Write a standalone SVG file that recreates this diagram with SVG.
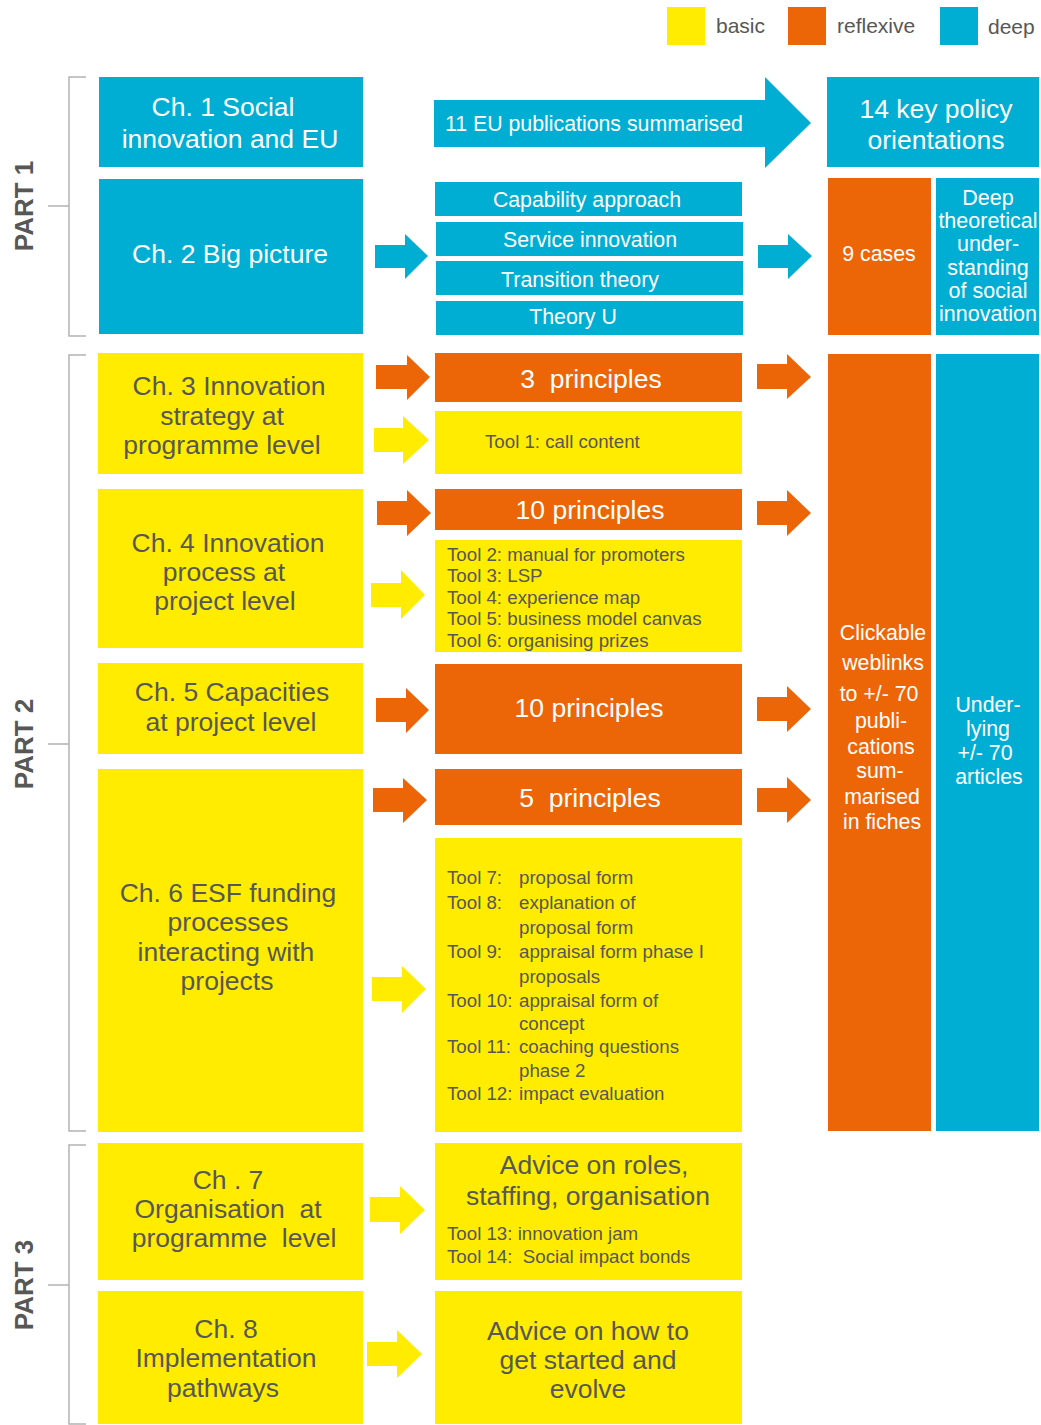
<svg xmlns="http://www.w3.org/2000/svg" width="1041" height="1425" viewBox="0 0 1041 1425">
<style>
.y{fill:#FFEC00}.o{fill:#EC6608}.b{fill:#00AED4}
text{font-family:"Liberation Sans",Arial,sans-serif}
.w{fill:#fff}.g{fill:#575756}
.c{text-anchor:middle}
.f26{font-size:26.5px}.f20{font-size:21.3px}.f17{font-size:18.7px}.f21{font-size:21.5px}.lg{font-size:21px}
.br{fill:none;stroke:#b2b2b2;stroke-width:1.5}
.part{font-size:26px;font-weight:bold;fill:#575756;text-anchor:middle}
</style>
<rect width="1041" height="1425" fill="#fff"/>
<g id="legend">
<rect class="y" x="667" y="7" width="38" height="38"/><text class="g lg" x="716" y="33">basic</text>
<rect class="o" x="788" y="7" width="38" height="38"/><text class="g lg" x="837" y="33">reflexive</text>
<rect class="b" x="940" y="7" width="38" height="38"/><text class="g lg" x="988" y="34">deep</text>
</g>
<g id="brackets">
<path class="br" d="M86 77H69V336H86M48 206H69"/>
<path class="br" d="M86 355H69V1131H86M48 744H69"/>
<path class="br" d="M86 1145H69V1424H86M48 1285H69"/>
<text class="part" transform="translate(33 206) rotate(-90)">PART 1</text>
<text class="part" transform="translate(33 744) rotate(-90)">PART 2</text>
<text class="part" transform="translate(33 1285) rotate(-90)">PART 3</text>
</g>
<g id="connectors">
<polygon class="b" points="434,100 765,100 765,77 811,123 765,168 765,147 434,147"/>
<text class="w f20" x="445" y="131">11 EU publications summarised</text>
<polygon class="b" points="375,245 405,245 405,234 428,256 405,279 405,268 375,268"/>
<polygon class="b" points="758,245 788,245 788,234 812,256 788,279 788,268 758,268"/>
<polygon class="o" points="376,365 407,365 407,355 430,377 407,400 407,389 376,389"/>
<polygon class="o" points="757,364 787,364 787,354 811,377 787,399 787,389 757,389"/>
<polygon class="y" points="374,428 403,428 403,416 429,440 403,464 403,452 374,452"/>
<polygon class="o" points="377,501 407,501 407,490 431,513 407,536 407,525 377,525"/>
<polygon class="o" points="757,501 787,501 787,490 811,513 787,536 787,525 757,525"/>
<polygon class="y" points="371,583 401,583 401,570 425,595 401,619 401,607 371,607"/>
<polygon class="o" points="376,698 406,698 406,688 429,710 406,733 406,722 376,722"/>
<polygon class="o" points="757,697 787,697 787,686 811,709 787,732 787,721 757,721"/>
<polygon class="o" points="373,788 403,788 403,778 427,800 403,823 403,812 373,812"/>
<polygon class="o" points="757,788 787,788 787,777 811,800 787,823 787,812 757,812"/>
<polygon class="y" points="372,977 402,977 402,966 426,989 402,1013 402,1001 372,1001"/>
<polygon class="y" points="370,1197 400,1197 400,1186 425,1210 400,1234 400,1222 370,1222"/>
<polygon class="y" points="367,1342 397,1342 397,1330 422,1354 397,1378 397,1366 367,1366"/>
</g>
<g id="ch1"><rect class="b" x="99" y="77" width="264" height="90"/>
<text class="w f26 c" x="223" y="116">Ch. 1 Social</text><text class="w f26 c" x="230" y="148">innovation and EU</text></g>
<g id="ch2"><rect class="b" x="99" y="179" width="264" height="155"/>
<text class="w f26 c" x="230" y="263">Ch. 2 Big picture</text></g>
<g id="policy"><rect class="b" x="827" y="77" width="212" height="90"/>
<text class="w f26 c" x="936" y="118">14 key policy</text><text class="w f26 c" x="936" y="149">orientations</text></g>
<g id="capability"><rect class="b" x="435" y="182" width="307" height="34"/><text class="w f20 c" x="587" y="207">Capability approach</text></g>
<g id="service"><rect class="b" x="436" y="222" width="307" height="34"/><text class="w f20 c" x="590" y="247">Service innovation</text></g>
<g id="transition"><rect class="b" x="436" y="261" width="307" height="34"/><text class="w f20 c" x="580" y="287">Transition theory</text></g>
<g id="theoryu"><rect class="b" x="436" y="301" width="307" height="34"/><text class="w f20 c" x="573" y="324">Theory U</text></g>
<g id="cases"><rect class="o" x="828" y="178" width="103" height="157"/><text class="w f20 c" x="879" y="261">9 cases</text></g>
<g id="deeptheory"><rect class="b" x="936" y="178" width="103" height="157"/>
<text class="w f21 c" x="988" y="205">Deep</text><text class="w f21 c" x="988" y="228">theoretical</text><text class="w f21 c" x="988" y="251">under-</text><text class="w f21 c" x="988" y="275">standing</text><text class="w f21 c" x="988" y="298">of social</text><text class="w f21 c" x="988" y="321">innovation</text></g>
<g id="ch3"><rect class="y" x="98" y="353" width="265" height="121"/>
<text class="g f26 c" x="229" y="395">Ch. 3 Innovation</text><text class="g f26 c" x="222" y="425">strategy at</text><text class="g f26 c" x="222" y="454">programme level</text></g>
<g id="p3"><rect class="o" x="435" y="353" width="307" height="49"/><text class="w f26 c" x="591" y="388" xml:space="preserve">3  principles</text></g>
<g id="tool1"><rect class="y" x="435" y="411" width="307" height="63"/><text class="g f17" x="485" y="448">Tool 1: call content</text></g>
<g id="ch4"><rect class="y" x="98" y="489" width="265" height="159"/>
<text class="g f26 c" x="228" y="552">Ch. 4 Innovation</text><text class="g f26 c" x="224" y="581">process at</text><text class="g f26 c" x="225" y="610">project level</text></g>
<g id="p10a"><rect class="o" x="435" y="489" width="307" height="41"/><text class="w f26 c" x="590" y="519">10 principles</text></g>
<g id="tools2to6"><rect class="y" x="435" y="540" width="307" height="112"/>
<text class="g f17" x="447" y="561">Tool 2: manual for promoters</text><text class="g f17" x="447" y="582">Tool 3: LSP</text><text class="g f17" x="447" y="604">Tool 4: experience  map</text><text class="g f17" x="447" y="625">Tool 5: business model canvas</text><text class="g f17" x="447" y="647">Tool 6: organising prizes</text></g>
<g id="ch5"><rect class="y" x="98" y="663" width="265" height="91"/>
<text class="g f26 c" x="232" y="701">Ch. 5 Capacities</text><text class="g f26 c" x="231" y="731">at project level</text></g>
<g id="p10b"><rect class="o" x="435" y="664" width="307" height="90"/><text class="w f26 c" x="589" y="717">10 principles</text></g>
<g id="ch6"><rect class="y" x="98" y="769" width="265" height="363"/>
<text class="g f26 c" x="228" y="902">Ch. 6 ESF funding</text><text class="g f26 c" x="228" y="931">processes</text><text class="g f26 c" x="226" y="961">interacting with</text><text class="g f26 c" x="227" y="990">projects</text></g>
<g id="p5"><rect class="o" x="435" y="769" width="307" height="56"/><text class="w f26 c" x="590" y="807" xml:space="preserve">5  principles</text></g>
<g id="tools7to12"><rect class="y" x="435" y="838" width="307" height="294"/>
<text class="g f17" x="447" y="884">Tool 7:</text><text class="g f17" x="519" y="884">proposal  form</text>
<text class="g f17" x="447" y="909">Tool 8:</text><text class="g f17" x="519" y="909">explanation of</text>
<text class="g f17" x="519" y="934">proposal  form</text>
<text class="g f17" x="447" y="958">Tool 9:</text><text class="g f17" x="519" y="958">appraisal form phase I</text>
<text class="g f17" x="519" y="983">proposals</text>
<text class="g f17" x="447" y="1007">Tool 10:</text><text class="g f17" x="519" y="1007">appraisal form of</text>
<text class="g f17" x="519" y="1030">concept</text>
<text class="g f17" x="447" y="1053">Tool 11:</text><text class="g f17" x="519" y="1053">coaching questions</text>
<text class="g f17" x="519" y="1077">phase  2</text>
<text class="g f17" x="447" y="1100">Tool 12:</text><text class="g f17" x="519" y="1100">impact evaluation</text></g>
<g id="weblinks"><rect class="o" x="828" y="354" width="103" height="777"/>
<text class="w f20 c" x="883" y="640">Clickable</text><text class="w f20 c" x="883" y="670">weblinks</text><text class="w f20 c" x="879" y="701">to +/- 70</text><text class="w f20 c" x="881" y="728">publi-</text><text class="w f20 c" x="881" y="754">cations</text><text class="w f20 c" x="880" y="778">sum-</text><text class="w f20 c" x="882" y="804">marised</text><text class="w f20 c" x="882" y="829">in fiches</text></g>
<g id="articles"><rect class="b" x="936" y="354" width="103" height="777"/>
<text class="w f20 c" x="988" y="712">Under-</text><text class="w f20 c" x="988" y="736">lying</text><text class="w f20 c" x="985" y="760">+/- 70</text><text class="w f20 c" x="989" y="784">articles</text></g>
<g id="ch7"><rect class="y" x="98" y="1143" width="265" height="137"/>
<text class="g f26 c" x="228" y="1189">Ch . 7</text><text class="g f26 c" x="228" y="1218" xml:space="preserve">Organisation  at</text><text class="g f26 c" x="234" y="1247" xml:space="preserve">programme  level</text></g>
<g id="advice1"><rect class="y" x="435" y="1143" width="307" height="137"/>
<text class="g f26 c" x="594" y="1174">Advice on roles,</text><text class="g f26 c" x="588" y="1205">staffing, organisation</text>
<text class="g f17" x="447" y="1240">Tool 13: innovation jam</text><text class="g f17" x="447" y="1263" xml:space="preserve">Tool 14:  Social impact bonds</text></g>
<g id="ch8"><rect class="y" x="98" y="1291" width="265" height="133"/>
<text class="g f26 c" x="226" y="1338">Ch. 8</text><text class="g f26 c" x="226" y="1367">Implementation</text><text class="g f26 c" x="223" y="1397">pathways</text></g>
<g id="advice2"><rect class="y" x="435" y="1291" width="307" height="133"/>
<text class="g f26 c" x="588" y="1340">Advice on how to</text><text class="g f26 c" x="588" y="1369">get started and</text><text class="g f26 c" x="588" y="1398">evolve</text></g>
</svg>
